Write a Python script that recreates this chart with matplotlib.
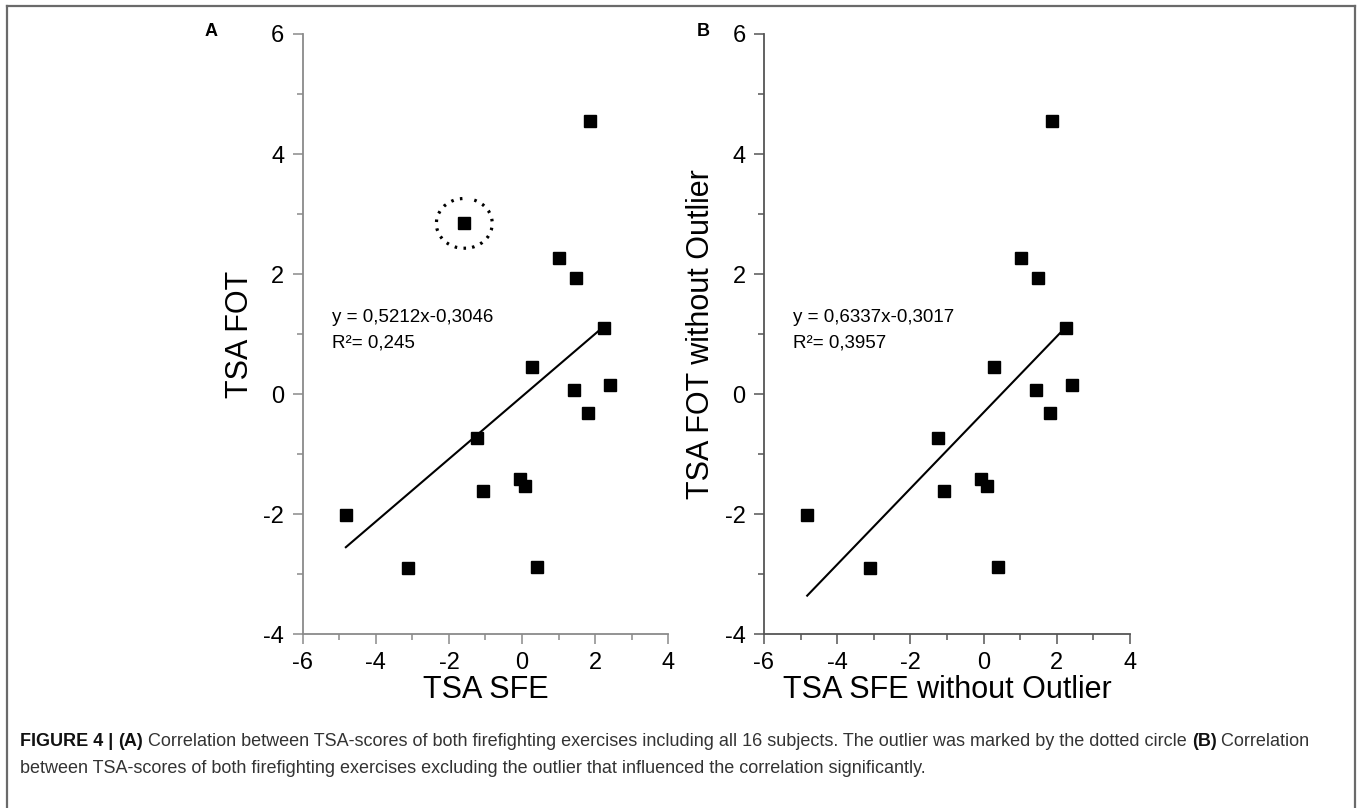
import matplotlib
matplotlib.use("Agg")
import matplotlib.pyplot as plt
import numpy as np
from matplotlib.patches import Arc
from matplotlib.lines import Line2D

plt.rcParams['font.family'] = ['Liberation Sans', 'DejaVu Sans']
plt.rcParams['axes.unicode_minus'] = False

# ---- data ----
tsa_sfe = [1.86, -1.58, 1.02, 1.475, 2.25, 0.28, 1.42, 2.405, 1.81, -1.24, -0.06, 0.08, -1.08, -4.82, -3.11, 0.40]
tsa_fot = [4.55, 2.845, 2.27, 1.94, 1.11, 0.445, 0.067, 0.155, -0.32, -0.73, -1.42, -1.53, -1.61, -2.02, -2.89, -2.88]
outlier_index = 1
fit_x_range = [-4.82, 2.1]
eq_text_A = ["y = 0,5212x-0,3046", "R\u00b2= 0,245"]
eq_text_B = ["y = 0,6337x-0,3017", "R\u00b2= 0,3957"]
x_ticks = [-6, -4, -2, 0, 2, 4]
y_ticks = [-4, -2, 0, 2, 4, 6]
xlabels = ["TSA SFE", "TSA SFE without Outlier"]
ylabels = ["TSA FOT", "TSA FOT without Outlier"]
panel_letters = ["A", "B"]

W, H = 1358, 808
fig = plt.figure(figsize=(W / 100, H / 100), dpi=100)

def px_rect(l, r, t, b):
    return [l / W, 1 - b / H, (r - l) / W, (b - t) / H]

axA = fig.add_axes(px_rect(302.7, 668.3, 34, 634.3))
axB = fig.add_axes(px_rect(764, 1130, 34, 634.3))

x_all = np.array(tsa_sfe)
y_all = np.array(tsa_fot)
mask = np.ones(len(x_all), bool)
mask[outlier_index] = False
datasets = [(x_all, y_all), (x_all[mask], y_all[mask])]
spine_colors = ['#8a8a8a', '#555555']

for i, ax in enumerate([axA, axB]):
    xs, ys = datasets[i]
    ax.plot(xs, ys, 's', color='black', markersize=8.6, linestyle='none', zorder=3)
    slope, icpt = np.polyfit(xs, ys, 1)
    fx = np.array(fit_x_range)
    ax.plot(fx, slope * fx + icpt, color='black', lw=1.5, zorder=2)
    ax.set_xlim(-6, 4)
    ax.set_ylim(-4, 6)
    ax.set_xticks(x_ticks)
    ax.set_yticks(y_ticks)
    ax.set_xticks(np.arange(-5, 4, 2), minor=True)
    ax.set_yticks(np.arange(-3, 6, 2), minor=True)
    for s in ['top', 'right']:
        ax.spines[s].set_visible(False)
    for s in ['left', 'bottom']:
        ax.spines[s].set_color(spine_colors[i])
        ax.spines[s].set_linewidth(1.3)
    ax.tick_params(which='major', direction='out', length=7.2, width=1.1,
                   color=spine_colors[i], labelsize=17, labelcolor='black')
    ax.tick_params(which='minor', direction='out', length=4.3, width=1.1,
                   color=spine_colors[i])
    ax.tick_params(axis='y', which='major', pad=6)
    ax.tick_params(axis='x', which='major', pad=5.5)
    ax.set_xlabel(xlabels[i], fontsize=22, labelpad=0.5)
    ax.set_ylabel(ylabels[i], fontsize=22, labelpad=6)
    eq = eq_text_A if i == 0 else eq_text_B
    ax.text(-5.2, 1.2, eq[0], fontsize=13.5, va='baseline', ha='left')
    ax.text(-5.2, 0.77, eq[1], fontsize=13.5, va='baseline', ha='left')
    ax.patch.set_visible(False)

# outlier circle (dotted, with two small gaps)
oc = (tsa_sfe[outlier_index], tsa_fot[outlier_index])
for t1, t2 in [(97, 292), (-62, 58)]:
    axA.add_patch(Arc(oc, 1.53, 0.83, theta1=t1, theta2=t2, ec='black', lw=2.3,
                      linestyle=(0, (0.8, 2.0)), zorder=4))

# panel letters
fig.text(211 / W, 1 - 32 / H, panel_letters[0], fontsize=13, fontweight='bold', ha='center', va='center')
fig.text(703 / W, 1 - 32 / H, panel_letters[1], fontsize=13, fontweight='bold', ha='center', va='center')

# frame
fc = '#6a6a6a'
fig.add_artist(Line2D([7 / W, 7 / W], [0, 1 - 6 / H], color=fc, lw=1.6))
fig.add_artist(Line2D([7 / W, 1355 / W], [1 - 6 / H, 1 - 6 / H], color=fc, lw=1.6))
fig.add_artist(Line2D([1355 / W, 1355 / W], [0, 1 - 6 / H], color=fc, lw=1.6))

# caption
renderer = fig.canvas.get_renderer()
line1 = [("FIGURE 4 | ", 'bold', '#111111'), ("(A)", 'bold', '#111111'),
         (" Correlation between TSA-scores of both firefighting exercises including all 16 subjects. The outlier was marked by the dotted circle ", 'normal', '#333333'),
         ("(B)", 'bold', '#111111'), (" Correlation", 'normal', '#333333')]
line2 = [("between TSA-scores of both firefighting exercises excluding the outlier that influenced the correlation significantly.", 'normal', '#333333')]

def draw_line(pieces, x0, ybase, fs):
    x = x0
    for txt, wt, col in pieces:
        t = fig.text(x / W, 1 - ybase / H, txt, fontsize=fs, fontweight=wt, color=col,
                     ha='left', va='baseline')
        bb = t.get_window_extent(renderer)
        x += bb.width
    return x

cap_fs = 12.95
draw_line(line1, 20, 746, cap_fs)
draw_line(line2, 20, 773, cap_fs)

fig.savefig("out.png", dpi=100)
